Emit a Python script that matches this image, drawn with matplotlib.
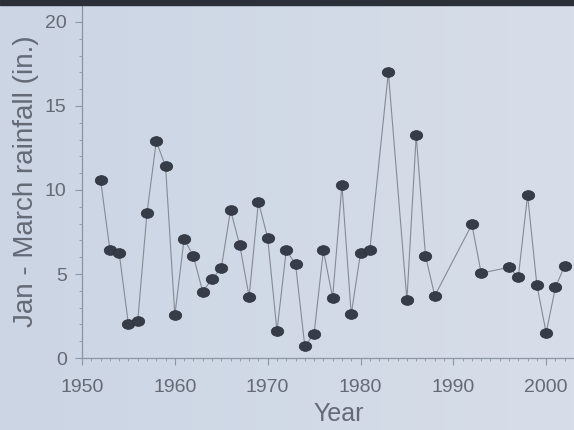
import numpy as np
import matplotlib.pyplot as plt
from matplotlib.ticker import MultipleLocator
from matplotlib.path import Path
from matplotlib.transforms import Affine2D
from matplotlib.colors import LinearSegmentedColormap

plt.rcParams['font.family'] = ['Liberation Sans', 'DejaVu Sans']

# Jan - March rainfall by year
years = [1952, 1953, 1954, 1955, 1956, 1957, 1958, 1959, 1960, 1961,
         1962, 1963, 1964, 1965, 1966, 1967, 1968, 1969, 1970, 1971,
         1972, 1973, 1974, 1975, 1976, 1977, 1978, 1979, 1980, 1981,
         1983, 1985, 1986, 1987, 1988, 1992, 1993, 1996, 1997, 1998,
         1999, 2000, 2001, 2002]
rain = [10.6, 6.45, 6.25, 2.0, 2.2, 8.65, 12.9, 11.4, 2.55, 7.1,
        6.05, 3.95, 4.7, 5.35, 8.8, 6.7, 3.65, 9.3, 7.15, 1.6,
        6.4, 5.6, 0.7, 1.45, 6.4, 3.6, 10.3, 2.6, 6.25, 6.4,
        17.0, 3.45, 13.25, 6.1, 3.7, 7.95, 5.05, 5.4, 4.8, 9.7,
        4.35, 1.5, 4.2, 5.5]

text_col = '#646a76'
axis_col = '#8d95a3'

fig = plt.figure(figsize=(5.74, 4.30), dpi=100)
fig.patch.set_facecolor('#cfd8e5')

# soft background gradient
bg = fig.add_axes([0, 0, 1, 1], zorder=-5)
grad = np.linspace(0, 1, 256).reshape(1, -1)
bg.imshow(grad, extent=[0, 1, 0, 1], aspect='auto',
          cmap=LinearSegmentedColormap.from_list('bg', ['#cbd5e4', '#d7dee9']))
bg.axis('off')

# dark band along the top edge
fig.patches.append(plt.Rectangle((0, 0.988), 1, 0.012, transform=fig.transFigure,
                                 color='#2b2f38', zorder=10))

ax = fig.add_axes([0.1429, 0.1674, 0.8571, 0.8206])
ax.set_facecolor('none')

# slightly flattened dots, like the reference
dot = Path.unit_circle().transformed(Affine2D().scale(1.0, 0.78))

ax.plot(years, rain, '-', color='#858b96', lw=0.8, zorder=2)
ax.plot(years, rain, ls='none', marker=dot, ms=9, color='#363c48', mec='#2d323c', mew=0.5, zorder=3)

ax.set_xlim(1950, 2003)
ax.set_ylim(0, 21)
ax.xaxis.set_major_locator(MultipleLocator(10))
ax.xaxis.set_minor_locator(MultipleLocator(1))
ax.yaxis.set_major_locator(MultipleLocator(5))
ax.yaxis.set_minor_locator(MultipleLocator(1))

for s in ['top', 'right']:
    ax.spines[s].set_visible(False)
for s in ['left', 'bottom']:
    ax.spines[s].set_color(axis_col)
    ax.spines[s].set_linewidth(0.9)

ax.tick_params(which='major', colors=axis_col, labelcolor=text_col, labelsize=14, length=5, width=0.8)
ax.tick_params(axis='x', which='major', pad=10)
ax.tick_params(axis='y', which='major', pad=6)
ax.tick_params(which='minor', colors=axis_col, length=2.5, width=0.6)

ax.set_xlabel('Year', fontsize=18, color=text_col)
ax.xaxis.set_label_coords(0.522, -0.125)
ax.set_ylabel('Jan - March rainfall (in.)', fontsize=20, color=text_col, labelpad=4)

plt.savefig('out.png', dpi=100, facecolor=fig.get_facecolor())
